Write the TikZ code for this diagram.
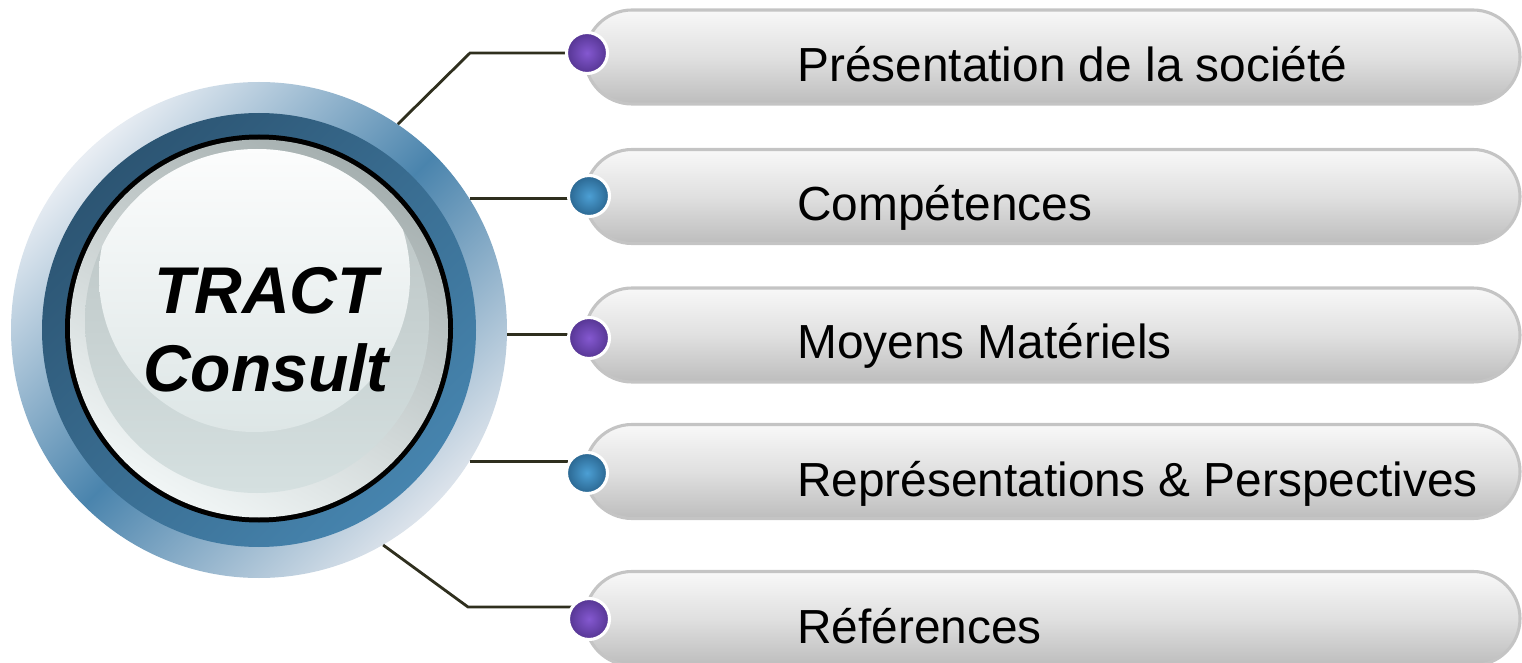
\documentclass[tikz,border=0pt]{standalone}
\usepackage{fontspec}
\setmainfont{Liberation Sans}
\usetikzlibrary{shapes.misc}
\definecolor{ringlightA}{HTML}{E8EDF3}
\definecolor{ringlightB}{HTML}{DCE3EB}
\definecolor{ringblue}{HTML}{4A84AD}
\definecolor{darkA}{HTML}{2C5573}
\definecolor{darkB}{HTML}{4684AE}
\definecolor{rimgray}{HTML}{A6B0B0}
\definecolor{rimlight}{HTML}{F0F5F5}
\definecolor{diskA}{HTML}{B8C1C1}
\definecolor{diskB}{HTML}{D5E0E0}
\definecolor{hiB}{HTML}{DDE6E6}
\definecolor{pilltop}{HTML}{F8F8F8}
\definecolor{pillmid}{HTML}{E0E0E0}
\definecolor{pillbot}{HTML}{BDBDBD}
\definecolor{pillborder}{HTML}{C4C4C4}
\definecolor{purpin}{HTML}{8458D0}
\definecolor{purpout}{HTML}{553592}
\definecolor{bluein}{HTML}{4C9FD4}
\definecolor{blueout}{HTML}{2A6690}
\definecolor{connc}{HTML}{2F2F1E}
\begin{document}
\begin{tikzpicture}[x=0.025cm,y=-0.025cm,
  pill/.style={rounded rectangle, minimum width=935*0.025cm, minimum height=94*0.025cm,
    inner sep=0pt, draw=pillborder, line width=2.2pt,
    top color=pilltop, bottom color=pillbot, middle color=pillmid},
  dotp/.style={circle, minimum size=41*0.025cm, inner sep=0pt, draw=white, line width=2.2pt,
    inner color=purpin, outer color=purpout},
  dotb/.style={circle, minimum size=41*0.025cm, inner sep=0pt, draw=white, line width=2.2pt,
    inner color=bluein, outer color=blueout},
  conn/.style={draw=connc, line width=2pt},
  lbl/.style={anchor=base west, inner sep=0pt, font=\fontsize{34}{40}\selectfont},
  hubtxt/.style={anchor=base, inner sep=0pt, font=\fontsize{47}{56}\selectfont\bfseries\itshape}]
\useasboundingbox (0,0) rectangle (1522,663);

% central badge
\node[circle, minimum size=496*0.025cm, inner sep=0pt,
  top color=ringlightA, bottom color=ringlightB, middle color=ringblue, shading angle=45]
  (hub) at (259,330) {};
\shade[top color=darkA, bottom color=darkB, shading angle=45]
  (259,330) circle[radius=217*0.025cm];
\fill[black] (259,328.5) circle[radius=194*0.025cm];
\shade[top color=rimgray, bottom color=rimlight, shading angle=-30]
  (259,328.5) circle[radius=189*0.025cm];
\shade[top color=diskA, bottom color=diskB]
  (257,321) circle[radius=172*0.025cm];
\begin{scope}
  \clip (257,321) circle[radius=172*0.025cm];
  \shade[top color=white, bottom color=hiB] (254.5,276.5) circle[radius=155.5*0.025cm];
\end{scope}
\node[hubtxt] (tract) at (266,313) {TRACT};
\node[hubtxt] (consult) at (266,392) {Consult};

% pills
\node[pill] (p1) at (1052.5,57) {};
\node[pill] (p2) at (1052.5,196.5) {};
\node[pill] (p3) at (1052.5,335) {};
\node[pill] (p4) at (1052.5,471.5) {};
\node[pill] (p5) at (1052.5,618.5) {};

\node[lbl] (l1) at (797,82) {Présentation de la société};
\node[lbl] (l2) at (797,221) {Compétences};
\node[lbl] (l3) at (797,359) {Moyens Matériels};
\node[lbl] (l4) at (797,496) {Représentations \& Perspectives};
\node[lbl] (l5) at (797,643) {Références};

% connectors
\coordinate (k1) at (470,53);
\coordinate (k5) at (468,607);
\draw[conn] (hub.56) -- (k1) -- (k1 -| 568,0);
\draw[conn] (hub.32) -- (hub.32 -| 570,0);
\draw[conn] (hub.-1.8) -- (hub.-1.8 -| 570,0);
\draw[conn] (hub.-32) -- (hub.-32 -| 568,0);
\draw[conn] (hub.-60) -- (k5) -- (k5 -| 572,0);

% dots
\node[dotp] (d1) at (587,53) {};
\node[dotb] (d2) at (589,196) {};
\node[dotp] (d3) at (589,338) {};
\node[dotb] (d4) at (587,473) {};
\node[dotp] (d5) at (589,619) {};
\end{tikzpicture}
\end{document}
